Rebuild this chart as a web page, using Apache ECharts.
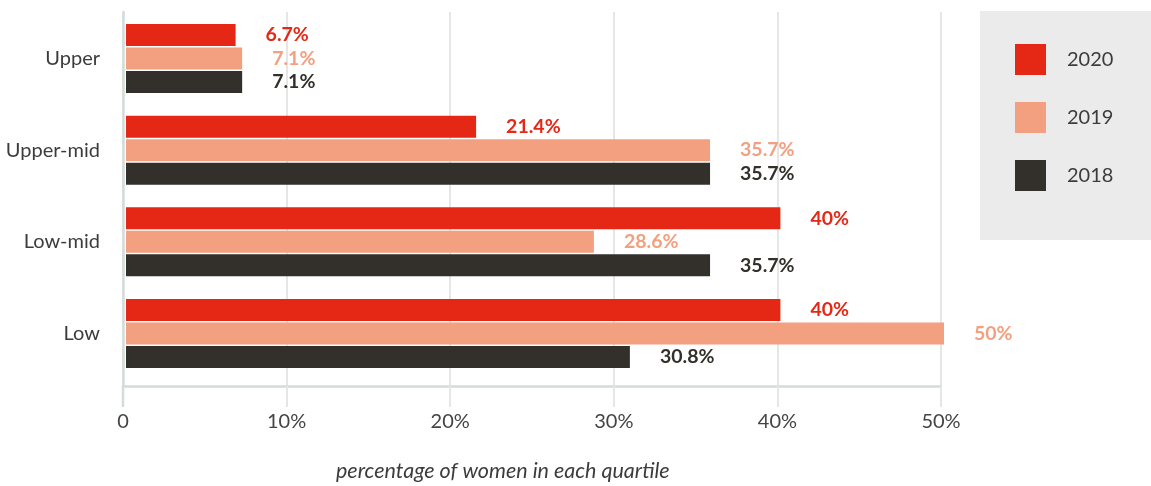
<!DOCTYPE html>
<html>
<head>
<meta charset="utf-8">
<script src="https://cdn.jsdelivr.net/npm/echarts@6/dist/echarts.min.js"></script>
<style>
html,body{margin:0;padding:0;background:#fff;}
#chart{width:1151px;height:486px;}
</style>
</head>
<body>
<div id="chart"></div>
<script>
const categories = ['Upper', 'Upper-mid', 'Low-mid', 'Low'];
const seriesNames = ['2020', '2019', '2018'];
const values2020 = [6.7, 21.4, 40, 40];
const values2019 = [7.1, 35.7, 28.6, 50];
const values2018 = [7.1, 35.7, 35.7, 30.8];
const valueLabels2020 = ['6.7%', '21.4%', '40%', '40%'];
const valueLabels2019 = ['7.1%', '35.7%', '28.6%', '50%'];
const valueLabels2018 = ['7.1%', '35.7%', '35.7%', '30.8%'];
const xTicks = [0, 10, 20, 30, 40, 50];
const axisTitle = 'percentage of women in each quartile';

const colors = ['#e52815', '#f2a07f', '#33302b'];
const FONT = 'Lato';

const chart = echarts.init(document.getElementById('chart'), null, {renderer: 'canvas'});

function mkSeries(name, data, labels, color) {
  return {
    name: name,
    type: 'bar',
    xAxisIndex: 1,
    yAxisIndex: 1,
    data: data,
    barWidth: 22,
    barGap: '7%',
    itemStyle: {color: color},
    label: {
      show: true,
      position: 'right',
      distance: 30,
      formatter: (p) => labels[p.dataIndex],
      color: color,
      fontFamily: FONT,
      fontWeight: 'bold',
      fontSize: 19.5
    }
  };
}

const option = {
  animation: false,
  backgroundColor: '#fff',
  textStyle: {fontFamily: FONT},
  graphic: [
    {type: 'rect', z: -10, shape: {x: 980, y: 11, width: 171, height: 229}, style: {fill: '#ebebeb'}},
    {type: 'line', z: 5, shape: {x1: 123, y1: 385, x2: 123, y2: 407}, style: {stroke: '#d3dcd9', lineWidth: 2.5}},
    {type: 'text', left: 336, top: 460, style: {text: axisTitle, fontSize: 21.5, fontStyle: 'italic', fontFamily: FONT, fill: '#3c3c3c'}}
  ],
  legend: {
    orient: 'vertical',
    left: 1015,
    top: 44,
    padding: 0,
    itemWidth: 31,
    itemHeight: 31,
    itemGap: 27,
    icon: 'rect',
    data: seriesNames,
    textStyle: {fontSize: 20, color: '#3c3c3c', fontFamily: FONT, padding: [0, 0, 0, 16]}
  },
  grid: [
    {left: 123, right: 210, top: 12, bottom: 100, containLabel: false},
    {left: 126, right: 207, top: 12.7, bottom: 106.7, containLabel: false}
  ],
  xAxis: [
    {
      type: 'value', gridIndex: 0, min: 0, max: 50, interval: 10,
      axisLine: {show: true, lineStyle: {color: '#d3dcd9', width: 2.5}},
      axisTick: {show: true, length: 21, lineStyle: {color: '#e6e6e6', width: 2}},
      splitLine: {show: true, lineStyle: {color: '#e6e6e6', width: 2}},
      axisLabel: {
        margin: 26, fontSize: 20, color: '#444', fontFamily: FONT,
        customValues: xTicks,
        formatter: (v) => v === 0 ? '0' : v + '%'
      }
    },
    {
      type: 'value', gridIndex: 1, min: 0, max: 50, interval: 10,
      show: false
    }
  ],
  yAxis: [
    {
      type: 'category', gridIndex: 0, data: categories, inverse: true,
      axisLine: {show: true, lineStyle: {color: '#d3dcd9', width: 2.5}},
      axisTick: {show: false},
      axisLabel: {show: false},
      splitLine: {show: false}
    },
    {
      type: 'category', gridIndex: 1, data: categories, inverse: true,
      axisLine: {show: false},
      axisTick: {show: false},
      axisLabel: {margin: 26, fontSize: 20, color: '#3c3c3c', fontFamily: FONT}
    }
  ],
  series: [
    mkSeries(seriesNames[0], values2020, valueLabels2020, colors[0]),
    mkSeries(seriesNames[1], values2019, valueLabels2019, colors[1]),
    mkSeries(seriesNames[2], values2018, valueLabels2018, colors[2])
  ]
};
chart.setOption(option);
</script>
</body>
</html>
